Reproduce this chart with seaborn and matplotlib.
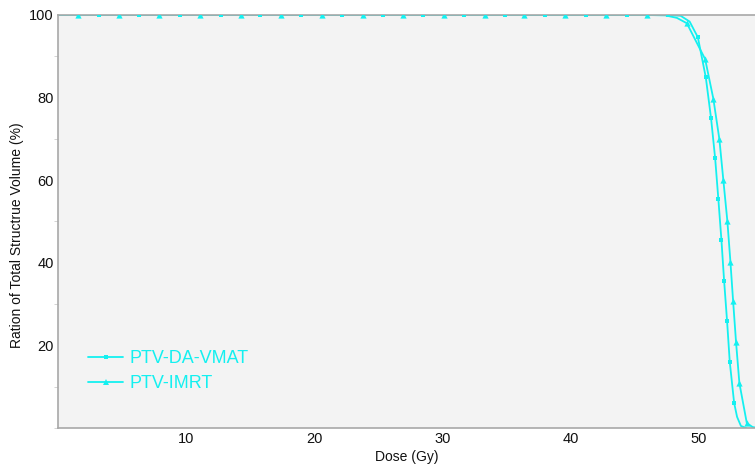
import pandas as pd
import matplotlib.pyplot as plt
import seaborn as sns
from matplotlib.lines import Line2D
from matplotlib.ticker import MultipleLocator

# ------------------------------
# Données (DVH)
# ------------------------------
# PTV-DA-VMAT : points marqués (carrés)
vmat_mark_dose = [3.2, 6.3, 9.5, 12.7, 15.8, 19.0, 22.2, 25.4, 28.5, 31.7, 34.9, 38.0, 41.2, 44.4, 47.6,
                  49.94, 50.56, 50.97, 51.29, 51.54, 51.78, 51.99, 52.22, 52.43, 52.77]
vmat_mark_vol = [100, 100, 100, 100, 100, 100, 100, 100, 100, 100, 100, 100, 100, 100, 100,
                 94.6, 84.9, 75.0, 65.3, 55.4, 45.5, 35.6, 25.9, 16.0, 6.1]
# points de courbe sans marqueur (début, coude, queue)
vmat_extra_dose = [0.0, 48.6, 49.3, 53.0, 53.3, 53.7]
vmat_extra_vol = [100, 99.8, 98.4, 2.7, 0.5, 0.0]

# PTV-IMRT : points marqués (triangles)
imrt_mark_dose = [1.6, 4.8, 7.9, 11.1, 14.3, 17.4, 20.6, 23.8, 26.9, 30.1, 33.3, 36.4, 39.6, 42.8, 46.0,
                  49.08, 50.51, 51.15, 51.62, 51.93, 52.24, 52.48, 52.69, 52.92, 53.18, 53.76]
imrt_mark_vol = [100, 100, 100, 100, 100, 100, 100, 100, 100, 100, 100, 100, 100, 100, 100,
                 98.0, 89.3, 79.7, 69.9, 60.0, 50.2, 40.3, 30.8, 20.8, 10.9, 1.2]
imrt_extra_dose = [0.0, 47.4, 48.3, 54.2, 54.6]
imrt_extra_vol = [100, 99.9, 99.3, 0.25, 0.0]

labels = ["PTV-DA-VMAT", "PTV-IMRT"]
cyan = "#14f0f0"

vmat = pd.DataFrame({"Dose": vmat_mark_dose + vmat_extra_dose,
                     "Volume": vmat_mark_vol + vmat_extra_vol}).sort_values("Dose")
imrt = pd.DataFrame({"Dose": imrt_mark_dose + imrt_extra_dose,
                     "Volume": imrt_mark_vol + imrt_extra_vol}).sort_values("Dose")

sns.set_style("white")
plt.rcParams["font.family"] = ["Liberation Sans", "DejaVu Sans"]

fig = plt.figure(figsize=(7.55, 4.71), dpi=100)
ax = fig.add_axes([0.0768, 0.0913, 0.9232, 0.8769])
ax.set_facecolor("#f3f3f3")

sns.lineplot(data=vmat, x="Dose", y="Volume", ax=ax, color=cyan, linewidth=1.3,
             sort=False, estimator=None)
sns.lineplot(data=imrt, x="Dose", y="Volume", ax=ax, color=cyan, linewidth=1.3,
             sort=False, estimator=None)
sns.scatterplot(x=vmat_mark_dose, y=vmat_mark_vol, ax=ax, marker="s", s=11,
                color=cyan, linewidth=0, zorder=3)
sns.scatterplot(x=imrt_mark_dose, y=imrt_mark_vol, ax=ax, marker="^", s=20,
                color=cyan, linewidth=0, zorder=3)

ax.set_xlim(0, 54.4)
ax.set_ylim(0, 100)
ax.set_xticks([10, 20, 30, 40, 50])
ax.set_yticks([20, 40, 60, 80, 100])
ax.yaxis.set_minor_locator(MultipleLocator(10))
ax.tick_params(axis="both", which="major", length=0, labelsize=10.5,
               labelcolor="#111111", pad=3)
ax.tick_params(axis="y", which="minor", length=3, color="#cccccc", left=True)

for side in ["top", "left", "bottom"]:
    ax.spines[side].set_color("#a8a8a8")
    ax.spines[side].set_linewidth(1.2)
ax.spines["right"].set_visible(False)

ax.set_xlabel("Dose (Gy)", fontsize=10, color="#111111", labelpad=3)
ax.set_ylabel("Ration of Total Structrue Volume (%)", fontsize=10, color="#111111")
ax.yaxis.set_label_coords(-0.049, 0.467)

handles = [
    Line2D([], [], color=cyan, linewidth=1.3, marker="s", markersize=2.8, markeredgewidth=0),
    Line2D([], [], color=cyan, linewidth=1.3, marker="^", markersize=3.8, markeredgewidth=0),
]
leg = ax.legend(handles, labels, loc="lower left", bbox_to_anchor=(0.043, 0.087),
                frameon=False, fontsize=13, handlelength=1.95, handletextpad=0.33,
                labelspacing=0.45, borderpad=0, borderaxespad=0)
for t in leg.get_texts():
    t.set_color(cyan)

fig.savefig("out.png", dpi=100)
